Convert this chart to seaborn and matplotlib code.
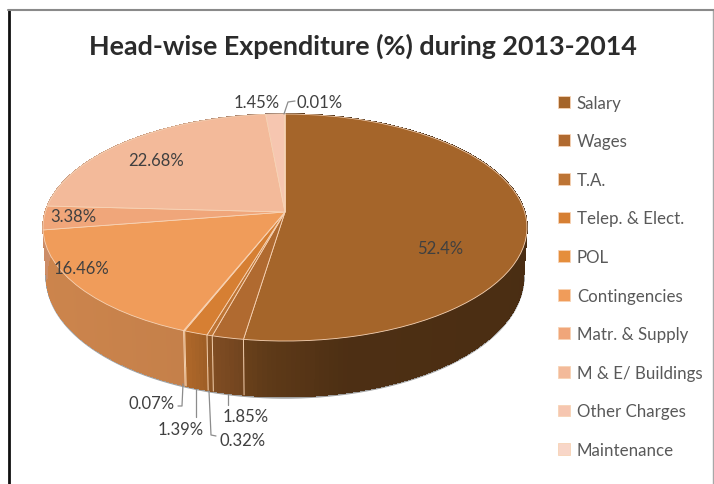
import numpy as np
import matplotlib
matplotlib.use("Agg")
import matplotlib.pyplot as plt
import seaborn as sns
from matplotlib.transforms import Transform

# Head-wise expenditure, in legend order
heads = ["Salary", "Wages", "T.A.", "Telep. & Elect.", "POL", "Contingencies",
         "Matr. & Supply", "M & E/ Buildings", "Other Charges", "Maintenance"]
shares = [52.4, 1.85, 0.32, 1.39, 0.07, 16.46, 3.38, 22.68, 1.45, 0.01]
title = "Head-wise Expenditure (%) during 2013-2014"

slice_colors = ["#a5652a", "#b06a30", "#bd7434", "#d67f33", "#e58e3c",
                "#f09c5a", "#f0a67a", "#f3ba9a", "#f6c6b0", "#f8d6c8"]

# Where the % labels sit (pixels)
label_pos = [(440, 249), (246, 417), (243, 441), (181, 430), (152, 404),
             (81, 269), (73, 217), (156, 161), (257, 103), (320, 103)]
leaders = {
    1: [(228, 395), (228, 406)],
    2: [(209, 392), (211, 436), (216, 437)],
    3: [(196, 390), (196, 418)],
    4: [(183, 385), (182, 407), (178, 407)],
    9: [(284, 115), (288, 103), (295, 102)],
}

# Tilted pie: apex in pixels, and the perspective of the disc
CX, CY = 285, 213
RX, RY, K = 239.7, 111.4, 0.1366
DEPTH = 48
BOTTOM_SCALE = 0.985


class TiltTransform(Transform):
    """Flattens the unit circle of ax.pie to a disc seen in perspective."""
    input_dims = 2
    output_dims = 2

    def transform_non_affine(self, values):
        x, y = np.asarray(values).T
        den = 1 + K * y
        return np.column_stack((CX + RX * x / den, CY - RY * y / den))


def wall_shade(x):
    # lighting of the side wall, left to right
    return np.interp(x - CX, [-242, -100, -80, -55, -15, 60, 242],
                     [0.85, 0.82, 0.75, 0.68, 0.57, 0.47, 0.45])


sns.set_theme(style="white")
plt.rcParams["font.family"] = ["Lato", "DejaVu Sans"]
palette = sns.color_palette(slice_colors)

fig = plt.figure(figsize=(7.14, 4.85), dpi=100)
ax = fig.add_axes([0, 0, 1, 1])

wedges, _ = ax.pie(shares, colors=palette, startangle=90, counterclock=False,
                   labels=heads, labeldistance=None,
                   wedgeprops=dict(edgecolor="#f7d3b5", linewidth=0.6))
ax.set_aspect("auto")
ax.set_xlim(0, 714)
ax.set_ylim(485, 0)
ax.set_axis_on()
ax.set_xticks([])
ax.set_yticks([])
for s in ax.spines.values():
    s.set_visible(False)

tilt = TiltTransform()
for w in wedges:
    w.set_transform(tilt + ax.transData)
    w.set_zorder(3)

# side wall, one thin strip at a time so the shading follows the rim
rim = []
for w, color in zip(wedges, palette):
    n = int(abs(w.theta2 - w.theta1)) + 2
    th = np.radians(np.linspace(w.theta1, w.theta2, n))
    pts = tilt.transform(np.column_stack((np.cos(th), np.sin(th))))
    low_x = CX + (pts[:, 0] - CX) * BOTTOM_SCALE
    low_y = pts[:, 1] + DEPTH / (1 + K * np.sin(th))
    for i in range(n - 1):
        c = np.array(color) * wall_shade(pts[i:i + 2, 0].mean())
        ax.fill([pts[i, 0], pts[i + 1, 0], low_x[i + 1], low_x[i]],
                [pts[i, 1], pts[i + 1, 1], low_y[i + 1], low_y[i]],
                color=c, linewidth=0.5, antialiased=False, zorder=1)
    # light seam where two heads meet, only on the front of the wall
    if pts[0, 1] > CY + 60:
        ax.plot([pts[0, 0], low_x[0]], [pts[0, 1], low_y[0]],
                color="#f2cfae", lw=0.7, zorder=2)
    rim.append(np.column_stack((low_x, low_y)))

# grey shadow under the wall
rim = np.vstack(rim)
front = rim[:, 1] > CY + 40
order = np.argsort(rim[front, 0])
ax.plot(rim[front, 0][order], rim[front, 1][order] + 1, color="#a0a0a0", lw=1.6, zorder=0.5)

for i, (x, y) in enumerate(label_pos):
    ax.text(x, y, f"{shares[i]:g}%", ha="center", va="center", fontsize=12,
            color="#404040", zorder=5)
for pts in leaders.values():
    xs, ys = zip(*pts)
    ax.plot(xs, ys, color="#8c8c8c", lw=0.9, zorder=4)

ax.text(363, 46, title, ha="center", va="center", fontsize=19.4, fontweight="bold",
        color="#2b2b2b")

fig.legend(handles=wedges, labels=heads, loc="upper left",
           bbox_to_anchor=(558 / 714, 1 - 95.5 / 485), frameon=False, fontsize=12.2,
           labelcolor="#595959", handlelength=0.7, handleheight=0.7,
           handletextpad=0.41, labelspacing=1.335, borderpad=0, borderaxespad=0)

# frame of the pasted picture
ax.plot([8.5, 8.5], [11, 485], color="#111111", lw=2, zorder=6)
ax.plot([713, 713], [11, 485], color="#a8a8a8", lw=1, zorder=6)
ax.plot([7.5, 714], [11, 11], color="#8a8a8a", lw=1.5, zorder=6)

fig.savefig("out.png", dpi=100)
